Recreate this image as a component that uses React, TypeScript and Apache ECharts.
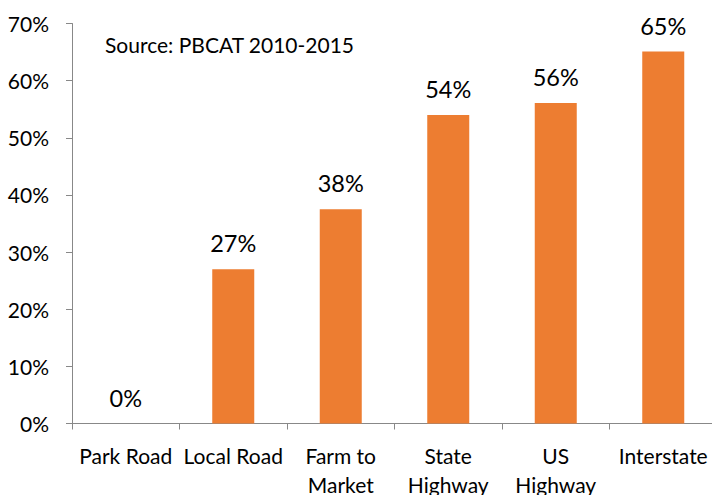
import React, { useEffect, useRef } from "react";
import * as echarts from "echarts";

const categories = ["Park Road", "Local Road", "Farm to\nMarket", "State\nHighway", "US\nHighway", "Interstate"];
const shares = [0, 27.0, 37.5, 54.0, 56.1, 65.1];
const yTicks = { min: 0, max: 70, interval: 10 };
const sourceNote = "Source: PBCAT 2010-2015";

const FONT = "Lato";

export default function App() {
  const ref = useRef<HTMLDivElement>(null);
  useEffect(() => {
    if (!ref.current) return;
    const chart = echarts.init(ref.current, null, { renderer: "svg" });
    chart.setOption({
      animation: false,
      backgroundColor: "#ffffff",
      textStyle: { fontFamily: FONT },
      grid: {
        left: 72,
        top: 23.5,
        bottom: 71.5,
        right: -5,
        containLabel: false,
        outerBoundsMode: "none",
      },
      graphic: [
        {
          type: "text",
          left: 105,
          top: 34,
          style: { text: sourceNote, fontSize: 21, fontFamily: FONT, fill: "#000" },
        },
      ],
      xAxis: {
        type: "category",
        data: categories,
        axisLine: { lineStyle: { color: "#888888", width: 1 } },
        axisTick: { show: true, length: 6, lineStyle: { color: "#888888" } },
        axisLabel: {
          interval: 0,
          color: "#000",
          fontSize: 21,
          fontFamily: FONT,
          margin: 17,
          lineHeight: 29,
          hideOverlap: false,
        },
        splitLine: { show: false },
      },
      yAxis: {
        type: "value",
        min: yTicks.min,
        max: yTicks.max,
        interval: yTicks.interval,
        axisLine: { show: true, lineStyle: { color: "#888888", width: 1 } },
        axisTick: { show: true, length: 6, lineStyle: { color: "#888888" } },
        axisLabel: {
          color: "#000",
          fontSize: 21,
          fontFamily: FONT,
          margin: 23,
          formatter: (v: number) => `${v}%`,
        },
        splitLine: { show: false },
      },
      series: [
        {
          type: "bar",
          data: shares,
          barWidth: 42,
          itemStyle: { color: "#ED7D31" },
          label: {
            show: true,
            position: "top",
            distance: 14,
            color: "#000",
            fontSize: 23.5,
            fontFamily: FONT,
            formatter: (p: any) => `${Math.round(p.value)}%`,
          },
        },
      ],
    });
    return () => chart.dispose();
  }, []);
  return <div ref={ref} style={{ width: 712, height: 495, position: "absolute", left: 0, top: 0 }} />;
}
